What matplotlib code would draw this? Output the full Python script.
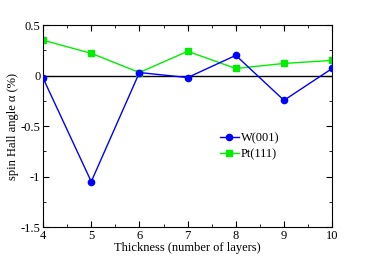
import numpy as np
import matplotlib
matplotlib.use("Agg")
import matplotlib.pyplot as plt
from matplotlib.ticker import MultipleLocator

plt.rcParams['font.family'] = ['Liberation Serif', 'DejaVu Serif']

layers = [4, 5, 6, 7, 8, 9, 10]
w001 = [-0.025, -1.05, 0.03, -0.02, 0.2, -0.245, 0.07]
pt111 = [0.35, 0.22, 0.03, 0.24, 0.07, 0.12, 0.15]

fig = plt.figure(figsize=(3.65, 2.61), dpi=100)
ax = fig.add_axes([0.118, 0.130, 0.792, 0.774])

ax.axhline(0, color='black', lw=1.0, zorder=1)
ax.plot(layers, w001, color='#0000ff', marker='o', ms=4.5, lw=1.0, label='W(001)', zorder=3)
ax.plot(layers, pt111, color='#00ee00', marker='s', ms=4, lw=1.0, label='Pt(111)', zorder=2)

ax.set_xlim(4, 10)
ax.set_ylim(-1.5, 0.5)
ax.xaxis.set_major_locator(MultipleLocator(1))
ax.xaxis.set_minor_locator(MultipleLocator(0.5))
ax.yaxis.set_major_locator(MultipleLocator(0.5))
ax.yaxis.set_minor_locator(MultipleLocator(0.25))
ax.yaxis.set_major_formatter(plt.FuncFormatter(lambda v, p: '%g' % v))
ax.tick_params(which='both', direction='in', top=True, right=True, labelsize=9, pad=2)
ax.tick_params(which='major', length=4)
ax.tick_params(which='minor', length=2)
for s in ax.spines.values():
    s.set_linewidth(0.8)

ax.set_xlabel('Thickness (number of layers)', fontsize=9, labelpad=0)
ax.set_ylabel('spin Hall angle α (%)', fontsize=9, labelpad=1)

ax.legend(loc='upper left', bbox_to_anchor=(0.59, 0.5), frameon=False, fontsize=9,
          handlelength=1.5, handletextpad=0.2, labelspacing=0.3, borderpad=0)

fig.savefig('out.png', dpi=100)
